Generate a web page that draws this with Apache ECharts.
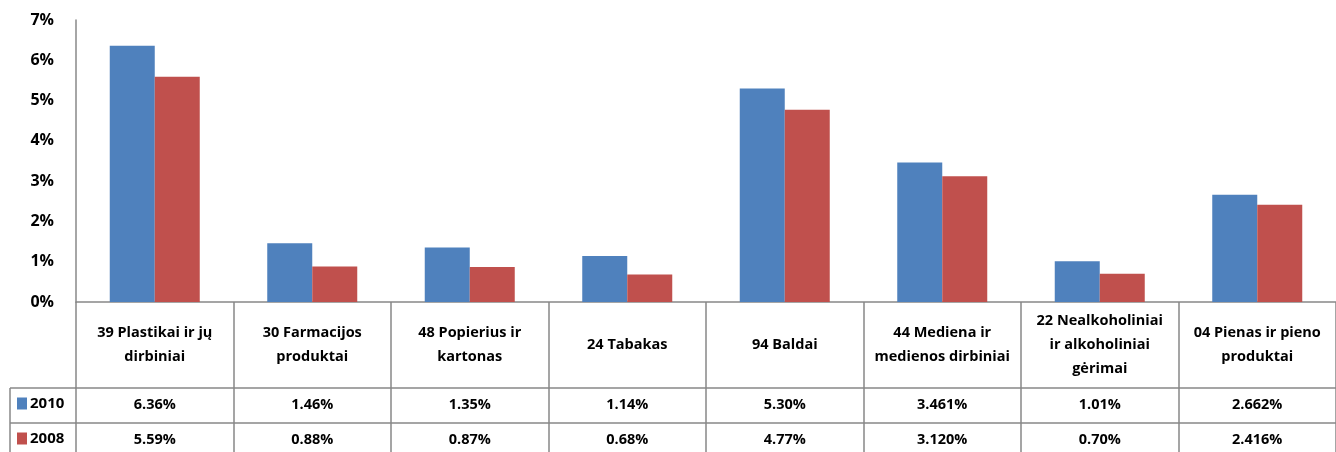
<!DOCTYPE html>
<html>
<head>
<meta charset="utf-8">
<script src="https://cdn.jsdelivr.net/npm/echarts@6/dist/echarts.min.js"></script>
<style>
  html, body { margin: 0; padding: 0; background: #fff; }
  #chart { width: 1336px; height: 452px; }
</style>
</head>
<body>
<div id="chart"></div>
<script>
// kategorijos (lentelės antraštė)
var categories = [
  '39 Plastikai ir jų\ndirbiniai',
  '30 Farmacijos\nproduktai',
  '48 Popierius ir\nkartonas',
  '24 Tabakas',
  '94 Baldai',
  '44 Mediena ir\nmedienos dirbiniai',
  '22 Nealkoholiniai\nir alkoholiniai\ngėrimai',
  '04 Pienas ir pieno\nproduktai'
];
// reikšmės, % (kaip lentelėje)
var values2010 = ['6.36', '1.46', '1.35', '1.14', '5.30', '3.461', '1.01', '2.662'];
var values2008 = ['5.59', '0.88', '0.87', '0.68', '4.77', '3.120', '0.70', '2.416'];
var yTicks = [0, 1, 2, 3, 4, 5, 6, 7];

var FONT = 'Open Sans';
var LINE = '#888888';
var BLUE = '#4f81bd';
var RED = '#c0504d';

var chart = echarts.init(document.getElementById('chart'));

function tableAxis(data, offset, tickLen) {
  return {
    type: 'category',
    position: 'bottom',
    offset: offset,
    data: data,
    boundaryGap: true,
    axisLine: { show: true, lineStyle: { color: LINE, width: 1.5 } },
    axisTick: { show: true, interval: 0, length: tickLen, lineStyle: { color: LINE, width: 1.5 } },
    axisLabel: {
      interval: 0,
      margin: 17,
      verticalAlign: 'middle',
      fontFamily: FONT,
      fontWeight: 'bold',
      fontSize: 14.5,
      color: '#000',
      formatter: function (v) { return v + '%'; }
    }
  };
}

function legendRow(name, top) {
  return {
    orient: 'horizontal',
    left: 12,
    top: top,
    itemWidth: 10,
    itemHeight: 12,
    itemGap: 0,
    icon: 'rect',
    data: [name],
    textStyle: { fontFamily: FONT, fontWeight: 'bold', fontSize: 15, color: '#000', padding: [0, 0, 0, -2] }
  };
}

chart.setOption({
  animation: false,
  grid: { left: 76, top: 20, right: -12, bottom: 150, containLabel: false },
  legend: [legendRow('2010', 391), legendRow('2008', 426)],
  xAxis: [
    {
      type: 'category',
      position: 'bottom',
      data: categories,
      boundaryGap: true,
      axisLine: { show: true, lineStyle: { color: LINE, width: 1.5 } },
      axisTick: { show: true, interval: 0, length: 86, lineStyle: { color: LINE, width: 1.5 } },
      axisLabel: {
        interval: 0,
        margin: 43,
        verticalAlign: 'middle',
        align: 'center',
        lineHeight: 24,
        fontFamily: FONT,
        fontWeight: 'bold',
        fontSize: 14.5,
        color: '#000'
      }
    },
    tableAxis(values2010, 86, 35),
    tableAxis(values2008, 121, 35)
  ],
  yAxis: {
    type: 'value',
    min: 0,
    max: 7,
    interval: 1,
    axisLine: { show: true, lineStyle: { color: LINE, width: 1.5 } },
    axisTick: { show: false },
    splitLine: { show: false },
    axisLabel: {
      margin: 22,
      fontFamily: FONT,
      fontWeight: 'bold',
      fontSize: 16,
      color: '#000',
      formatter: function (v) { return yTicks.indexOf(v) >= 0 ? v + '%' : ''; }
    }
  },
  series: [
    {
      name: '2010',
      type: 'bar',
      xAxisIndex: 0,
      barWidth: 45,
      barGap: '0%',
      itemStyle: { color: BLUE },
      data: values2010.map(Number)
    },
    {
      name: '2008',
      type: 'bar',
      xAxisIndex: 0,
      barWidth: 45,
      barGap: '0%',
      itemStyle: { color: RED },
      data: values2008.map(Number)
    }
  ],
  // legendos langelio rėmeliai kairėje
  graphic: [
    { type: 'line', shape: { x1: 10, y1: 388, x2: 76, y2: 388 }, style: { stroke: LINE, lineWidth: 1.5 } },
    { type: 'line', shape: { x1: 10, y1: 423, x2: 76, y2: 423 }, style: { stroke: LINE, lineWidth: 1.5 } },
    { type: 'line', shape: { x1: 10, y1: 388, x2: 10, y2: 452 }, style: { stroke: LINE, lineWidth: 1.5 } }
  ]
});
</script>
</body>
</html>
